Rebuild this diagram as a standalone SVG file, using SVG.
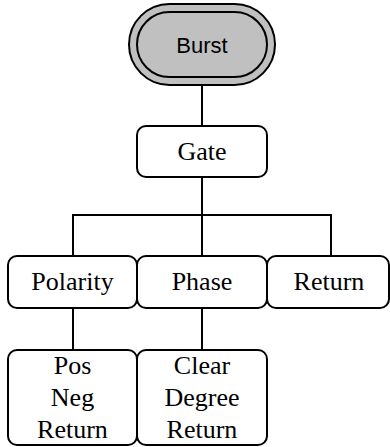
<svg xmlns="http://www.w3.org/2000/svg" width="390" height="447" viewBox="0 0 390 447">
<style>
.box{fill:#fff;stroke:#000;stroke-width:2}
.pill{fill:#c0c0c0;stroke:#000;stroke-width:2}
.t{font-family:"Liberation Serif","Times New Roman",serif;font-size:26px;fill:#000;text-anchor:middle}
.s{font-family:"Liberation Sans",Arial,sans-serif;font-size:22px;fill:#000;text-anchor:middle}
.c{fill:none;stroke:#000;stroke-width:2}
</style>
<rect width="390" height="447" fill="#fff"/>
<g id="connectors">
<path class="c" d="M202 85V126M202 177V256M73 256V215H331V256M73 308V350M202 308V350"/>
</g>
<g id="burst">
<rect class="pill" x="129" y="4" width="146" height="81" rx="40.5" ry="40.5"/>
<rect class="pill" x="137" y="12" width="130" height="65" rx="32.5" ry="32.5"/>
<text class="s" x="202" y="53">Burst</text>
</g>
<g id="gate">
<rect class="box" x="137" y="126" width="130" height="51" rx="9"/>
<text class="t" x="202" y="160">Gate</text>
</g>
<g id="polarity">
<rect class="box" x="8" y="256" width="129" height="52" rx="9"/>
<text class="t" x="72.5" y="290">Polarity</text>
</g>
<g id="phase">
<rect class="box" x="137" y="256" width="130" height="52" rx="9"/>
<text class="t" x="202" y="290">Phase</text>
</g>
<g id="return">
<rect class="box" x="267" y="256" width="122" height="52" rx="9"/>
<text class="t" x="329" y="290">Return</text>
</g>
<g id="polarity-options">
<rect class="box" x="8" y="350" width="129" height="95" rx="9"/>
<text class="t" x="72.5" y="374">Pos</text>
<text class="t" x="72.5" y="406">Neg</text>
<text class="t" x="72.5" y="438">Return</text>
</g>
<g id="phase-options">
<rect class="box" x="137" y="350" width="130" height="95" rx="9"/>
<text class="t" x="202" y="374">Clear</text>
<text class="t" x="202" y="406">Degree</text>
<text class="t" x="202" y="438">Return</text>
</g>
</svg>
